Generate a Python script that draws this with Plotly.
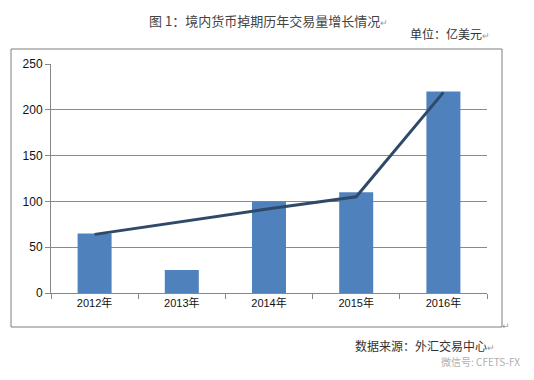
import plotly.graph_objects as go

years = ["2012年", "2013年", "2014年", "2015年", "2016年"]
volumes = [65, 25, 100, 110, 220]
trend = [64, 78, 92, 105, 219]
y_ticks = [0, 50, 100, 150, 200, 250]

OFF = 8  # page body margin
W, H = 534 - OFF, 380 - OFF
L, R, T, B = 51 - OFF, 487 - OFF, 64 - OFF, 293 - OFF

fig = go.Figure()
fig.add_trace(go.Bar(x=years, y=volumes, marker=dict(color="#4F81BD", line=dict(width=0)),
                     width=0.39, showlegend=False))
fig.add_trace(go.Scatter(x=years, y=trend, mode="lines",
                         line=dict(color="#2F4A68", width=3), showlegend=False))

fig.update_layout(
    width=W, height=H,
    margin=dict(l=L, r=W - R, t=T, b=H - B, pad=0),
    paper_bgcolor="white", plot_bgcolor="white",
    font=dict(family="Liberation Sans, Noto Sans CJK SC", size=11, color="#222"),
)
fig.update_xaxes(showgrid=False, showline=True, linecolor="#888", linewidth=1,
                 ticks="outside", tickson="boundaries", ticklen=5, tickcolor="#888",
                 tickfont=dict(family="Liberation Sans, Noto Sans CJK SC", size=11, color="#111"),
                 automargin=False, fixedrange=True)
fig.update_yaxes(range=[0, 250], tickvals=y_ticks, showgrid=True, gridcolor="#8a8a8a",
                 gridwidth=1, showline=True, linecolor="#888", linewidth=1,
                 ticks="outside", ticklen=5, tickcolor="#888", zeroline=False,
                 tickfont=dict(family="Liberation Sans", size=12, color="#111"),
                 automargin=False, fixedrange=True)

def ax(x):
    return (x - OFF - L) / (R - L)

def ay(y):
    return (B - (y - OFF)) / (B - T)

# chart border
fig.add_shape(type="rect", xref="paper", yref="paper",
              x0=ax(11), x1=ax(502), y0=ay(327), y1=ay(49),
              line=dict(color="#7f7f7f", width=1), fillcolor="rgba(0,0,0,0)", layer="below")

def txt(s, x, y, xanchor, size, color="#333", family="Noto Sans CJK SC", yanchor="middle"):
    fig.add_annotation(text=s, xref="paper", yref="paper",
                       x=ax(x), y=ay(y),
                       xanchor=xanchor, yanchor=yanchor, showarrow=False,
                       font=dict(family=family, size=size, color=color))

txt("图 1：境内货币掉期历年交易量增长情况<span style='color:#999;font-size:9px'>↵</span>", 268, 9, "center", 13, color="#444", yanchor="top")
txt("单位：亿美元<span style='color:#999;font-size:9px'>↵</span>", 492, 34, "right", 12)
txt("数据来源：外汇交易中心<span style='color:#999;font-size:9px'>↵</span>", 497, 345, "right", 12)
txt("微信号: CFETS-FX", 522, 361, "right", 10, color="#b0b0b0")
txt("↵", 506, 326, "center", 9, color="#999", family="DejaVu Sans")

fig.write_html("out.html")
